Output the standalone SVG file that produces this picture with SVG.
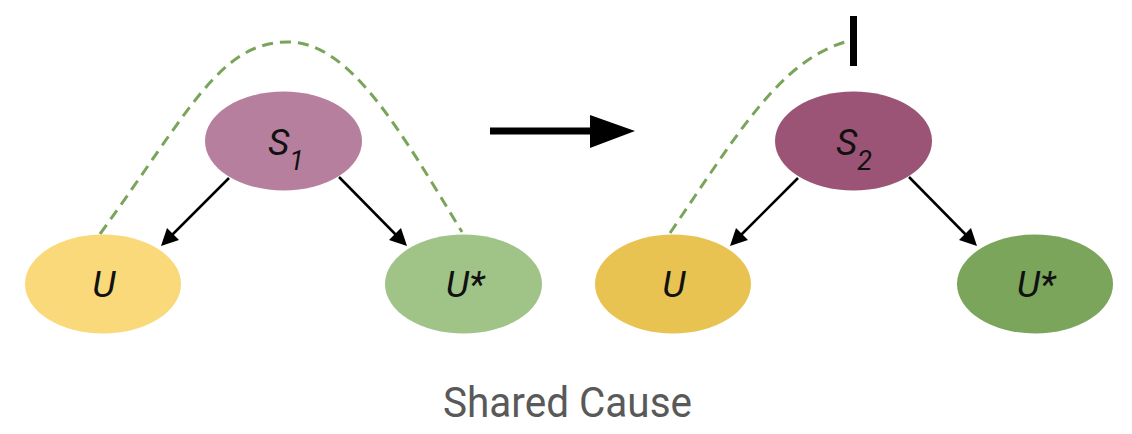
<svg xmlns="http://www.w3.org/2000/svg" width="1132" height="434" viewBox="0 0 1132 434">
<style>
.lbl{font-family:Roboto,"Liberation Sans",sans-serif;font-style:italic;font-size:37px;fill:#111;}
.sub{font-size:27px;}
.dash{stroke:#79a55a;stroke-width:3;fill:none;stroke-dasharray:11,7;}
.ln{stroke:#000;stroke-width:2.5;}
</style>
<rect width="1132" height="434" fill="#fff"/>
<g id="connectors">
<path class="dash" d="M100,234 C190,110 220,42 288,42 C350,42 400,130 462,232"/>
<path class="dash" d="M670,233 C740,130 780,62 845,42"/>
<line class="ln" x1="229" y1="178" x2="165" y2="242"/>
<path d="M161,246 L167,228 L179,240 Z" fill="#000"/>
<line class="ln" x1="339" y1="177" x2="403" y2="242"/>
<path d="M407,246 L389,240 L401,228 Z" fill="#000"/>
<line class="ln" x1="798" y1="178" x2="734" y2="242"/>
<path d="M730,246 L736,228 L748,240 Z" fill="#000"/>
<line class="ln" x1="909" y1="177" x2="973" y2="242"/>
<path d="M977,246 L959,240 L971,228 Z" fill="#000"/>
<rect x="490" y="127.5" width="101" height="7" fill="#000"/>
<path d="M590,115 L635,131 L590,148 Z" fill="#000"/>
<rect x="850" y="16" width="7" height="50" fill="#000"/>
</g>
<g id="S1">
<ellipse cx="283.5" cy="141" rx="78.5" ry="49.5" fill="#b77f9e"/>
<text class="lbl" x="268" y="155">S<tspan class="sub" dx="0" dy="15">1</tspan></text>
</g>
<g id="U1">
<ellipse cx="103" cy="284" rx="78" ry="49.5" fill="#f9d97a"/>
<text class="lbl" x="104" y="297" text-anchor="middle">U</text>
</g>
<g id="Ustar1">
<ellipse cx="463.5" cy="284" rx="78.5" ry="49.5" fill="#a0c488"/>
<text class="lbl" x="465" y="297" text-anchor="middle">U*</text>
</g>
<g id="S2">
<ellipse cx="853.5" cy="141" rx="78.5" ry="49.5" fill="#9b5475"/>
<text class="lbl" x="836" y="155">S<tspan class="sub" dx="0" dy="15">2</tspan></text>
</g>
<g id="U2">
<ellipse cx="673" cy="284" rx="78" ry="49.5" fill="#e8c352"/>
<text class="lbl" x="674" y="297" text-anchor="middle">U</text>
</g>
<g id="Ustar2">
<ellipse cx="1035" cy="284" rx="78" ry="49.5" fill="#7aa55a"/>
<text class="lbl" x="1036" y="297" text-anchor="middle">U*</text>
</g>
<text x="443" y="417" textLength="249" lengthAdjust="spacingAndGlyphs" style="font-family:Roboto,'Liberation Sans',sans-serif;font-size:42px;fill:#595959">Shared Cause</text>
</svg>
